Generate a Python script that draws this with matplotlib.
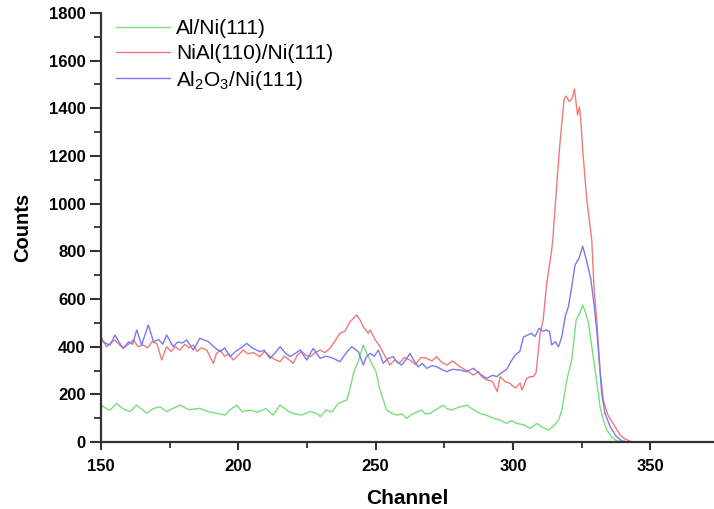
import matplotlib
matplotlib.use("Agg")
import matplotlib.pyplot as plt
from matplotlib.ticker import MultipleLocator

plt.rcParams['font.family'] = ['Liberation Sans', 'DejaVu Sans']
plt.rcParams['mathtext.fontset'] = 'custom'
plt.rcParams['mathtext.rm'] = 'Liberation Sans'
plt.rcParams['mathtext.default'] = 'regular'

labels = ["Al/Ni(111)", "NiAl(110)/Ni(111)", r"Al$_2$O$_3$/Ni(111)"]

green_ch = [150, 152, 153.3, 155.7, 158, 160.6, 163, 166.7, 169, 171.5, 173.9, 176, 178.8, 182, 186, 189,
            192.2, 195.2, 197, 199.4, 201.4, 204.3, 207, 210, 212.7, 215.2, 218, 220, 223.1, 226, 228.6, 229.8,
            232, 234, 236.4, 239.5, 241, 242, 243.7, 245.5, 246.8, 248.5, 250, 251.6, 254, 256, 257.7, 259.5,
            261.3, 263, 265, 266.8, 268, 269.8, 272, 274.6, 276, 277.7, 280, 283.2, 285, 288, 290.5, 292.9,
            295.3, 297.7, 299.5, 301.4, 304, 306.2, 308.7, 311, 313, 315, 316.6, 317.8, 319.6, 321.4, 323,
            324.5, 325.4, 326.5, 327.5, 328.7, 329.9, 331, 331.7, 333, 334.2, 336, 337.8, 340, 345, 355, 365, 373]
green_v = [155, 140, 134, 162, 140, 127, 155, 120, 140, 148, 127, 140, 155, 135, 141, 128,
           120, 113, 135, 155, 127, 134, 125, 140, 113, 155, 130, 120, 113, 128, 120, 106,
           134, 125, 162, 176, 240, 290, 340, 407, 372, 330, 300, 218, 134, 120, 113, 118,
           99, 115, 125, 134, 118, 120, 135, 155, 140, 134, 145, 155, 140, 120, 112, 99,
           92, 78, 90, 78, 72, 57, 78, 60, 50, 70, 92, 134, 260, 344, 512,
           545, 575, 540, 498, 400, 302, 210, 148, 90, 50, 20, 5, 0, 0, 0, 0, 0]

red_ch = [150, 151, 152, 153.5, 155.1, 156.5, 158.1, 160, 161.8, 163.5, 165.4, 167, 168.5, 170.3, 172.1, 173.9,
          175.5, 177, 178.8, 180.5, 182, 183.6, 185, 186.5, 188.5, 190.9, 192, 193.4, 195, 196.5, 198.2, 200,
          201.8, 203.5, 205.5, 207.9, 209.5, 211.5, 213.5, 215.2, 216.8, 218.5, 220, 221.5, 223, 224.5, 226.1,
          228, 229.8, 231.5, 233.4, 235, 237, 238.8, 240.7, 242, 243.1, 244.3, 245.5, 247.3, 248, 249.8, 251.6,
          253.4, 255.2, 257, 258.5, 260.5, 262.5, 264.5, 266.5, 268.6, 270.5, 272.2, 274, 275.9, 278, 280.7,
          283, 285.6, 287.5, 288.5, 290.5, 292.5, 294.3, 295.3, 297, 298.9, 300.8, 301.4, 302.6, 303.3, 305,
          306.2, 307.4, 308.4, 309.9, 311, 312.3, 314.1, 314.5, 315.7, 316.9, 317.8, 318.6, 319.3, 320.5, 321.5,
          322.4, 323.5, 324.2, 324.7, 325.4, 326.9, 328.7, 329.5, 330.5, 331.7, 332.9, 334.5, 335.8, 337.2,
          339, 340.5, 342.6, 345, 355, 365, 373]
red_v = [442, 420, 400, 415, 428, 410, 393, 410, 428, 400, 407, 395, 420, 414, 344, 400,
         380, 400, 386, 410, 395, 407, 380, 395, 386, 330, 370, 386, 360, 370, 344, 365,
         386, 370, 375, 358, 380, 360, 345, 337, 360, 345, 330, 365, 380, 365, 358,
         375, 386, 375, 393, 420, 456, 465, 505, 520, 533, 512, 484, 456, 470, 430, 400,
         360, 323, 345, 330, 355, 344, 325, 355, 351, 340, 358, 335, 323, 340, 316,
         300, 281, 295, 275, 260, 255, 211, 274, 255, 246, 227, 232, 248, 218, 267,
         274, 274, 290, 456, 512, 666, 805, 848, 1040, 1225, 1340, 1435, 1452, 1428, 1440,
         1481, 1372, 1406, 1351, 1225, 1015, 848, 650, 512, 300, 176, 115, 90, 64,
         30, 15, 3, 0, 0, 0, 0]

blue_ch = [150, 151.5, 153.3, 155.1, 156.5, 158.1, 160, 161.5, 163, 164.8, 167.2, 169.1, 171, 172.5, 173.9, 176.3,
           178, 179.5, 181.2, 183.6, 186, 189.1, 191, 193.4, 195, 197, 199, 201, 203.1, 205, 207.9, 209.5,
           211.5, 213.5, 215.2, 217, 218.8, 220.5, 222.5, 224.9, 227.3, 229.8, 232, 234.6, 237, 239, 241.3,
           243.7, 245.5, 246.5, 248, 249.5, 251, 252.8, 254.5, 256.4, 257.8, 259.5, 261, 262.5, 264, 265.5,
           267, 268.6, 270.5, 272.2, 274, 275.9, 278, 280.7, 283, 285.6, 288, 290.5, 292.5, 294.1, 295.5,
           297.7, 299.6, 300.8, 302.5, 303.8, 305.5, 306.8, 308, 309.5, 311, 312.1, 313.3, 314.1, 315.4, 316.6,
           317.8, 319, 320.2, 321.4, 322.6, 324, 325.4, 326.8, 328.3, 329.5, 330.5, 331.5, 332.3, 333.5, 335.4,
           337.5, 339.6, 342, 350, 360, 373]
blue_v = [428, 415, 407, 449, 420, 393, 420, 410, 470, 407, 491, 421, 430, 410, 449, 400,
          420, 415, 428, 386, 435, 421, 400, 379, 395, 358, 380, 395, 414, 395, 379, 385,
          351, 375, 400, 375, 358, 370, 386, 344, 393, 351, 360, 351, 337, 370, 400,
          379, 323, 355, 372, 360, 386, 330, 350, 358, 335, 323, 345, 372, 340, 316,
          330, 309, 320, 316, 305, 295, 305, 302, 295, 309, 285, 267, 280, 274, 288,
          305, 344, 365, 380, 440, 450, 456, 442, 477, 465, 470, 463, 407, 421, 400,
          442, 526, 568, 652, 743, 770, 822, 760, 687, 580, 470, 330, 204, 120, 64,
          25, 5, 0, 0, 0, 0]

fig = plt.figure(figsize=(7.14, 5.09), dpi=100)
ax = fig.add_axes([101/714, 67/509, 613/714, 429/509])

ax.plot(green_ch, green_v, color='#7ade7a', lw=1.0, label=labels[0])
ax.plot(red_ch, red_v, color='#f07a7a', lw=1.0, label=labels[1])
ax.plot(blue_ch, blue_v, color='#7a7aee', lw=1.0, label=labels[2])

ax.set_xlim(150, 373.2)
ax.set_ylim(0, 1800)
ax.xaxis.set_major_locator(MultipleLocator(50))
ax.xaxis.set_minor_locator(MultipleLocator(25))
ax.yaxis.set_major_locator(MultipleLocator(200))
ax.yaxis.set_minor_locator(MultipleLocator(100))

for s in ['top', 'right']:
    ax.spines[s].set_visible(False)
for s in ['left', 'bottom']:
    ax.spines[s].set_linewidth(1.6)
    ax.spines[s].set_color('#333333')

ax.tick_params(axis='y', which='major', direction='out', length=8, width=1.5, color='#333333',
               labelsize=12, pad=3)
ax.tick_params(axis='x', which='major', direction='out', length=6, width=1.5, color='#333333',
               labelsize=12, pad=6)
ax.tick_params(axis='y', which='minor', direction='out', length=5, width=1.3, color='#333333')
ax.tick_params(axis='x', which='minor', direction='out', length=4, width=1.3, color='#333333')
for lab in ax.get_xticklabels() + ax.get_yticklabels():
    lab.set_fontweight('bold')

ax.set_xlabel('Channel', fontsize=15, fontweight='bold', labelpad=11)
ax.set_ylabel('Counts', fontsize=14.5, fontweight='bold', labelpad=12)

leg = ax.legend(loc='upper left', bbox_to_anchor=(0.0, 1.02), frameon=False,
                fontsize=15, handlelength=2.6, handletextpad=0.3, labelspacing=0.28,
                borderaxespad=0.3)

fig.savefig('out.png', dpi=100)
